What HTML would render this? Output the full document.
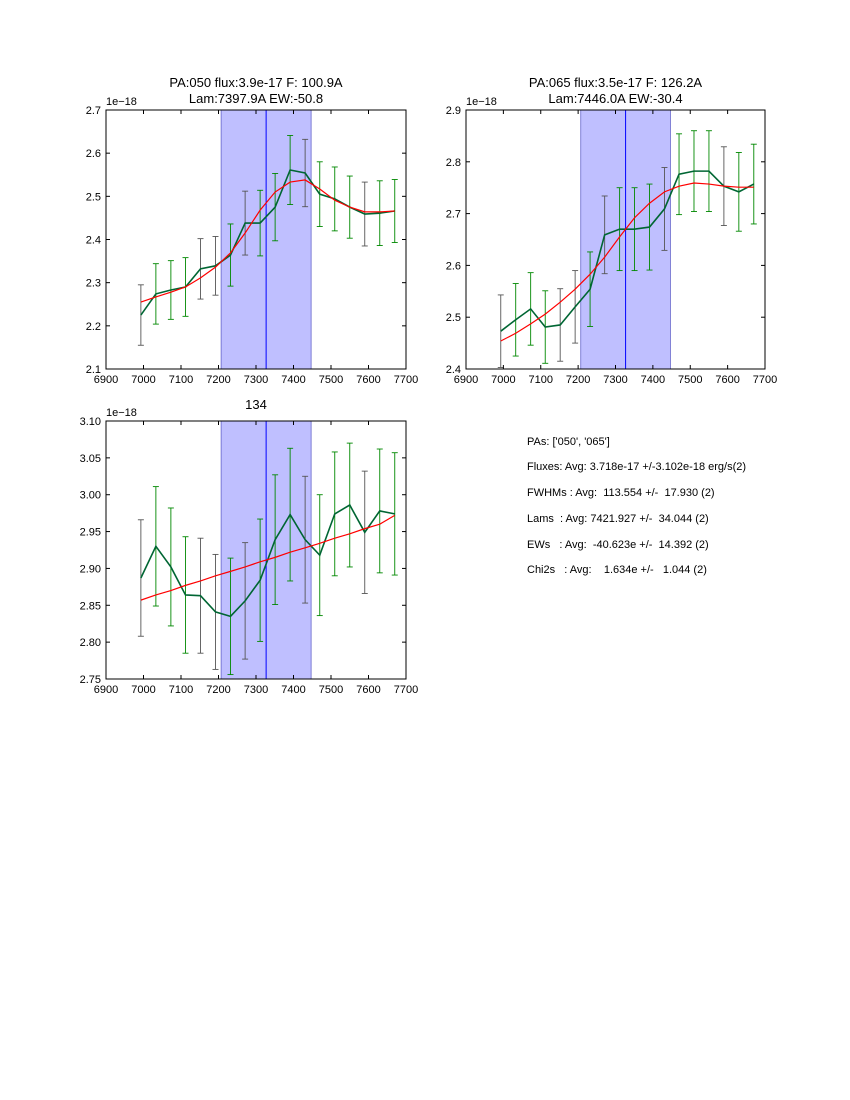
<!DOCTYPE html>
<html><head><meta charset="utf-8">
<style>
body{margin:0;background:#fff;}
svg{display:block;font-family:"Liberation Sans",sans-serif;}
text{white-space:pre;}
</style></head>
<body>
<svg id="fig" width="850" height="1100" viewBox="0 0 850 1100" xmlns="http://www.w3.org/2000/svg" xml:space="preserve">
<rect width="850" height="1100" fill="#fff"/>
<g font-size="11" fill="#000">
<text x="527" y="445">PAs: ['050', '065']</text>
<text x="527" y="470">Fluxes: Avg: 3.718e-17 +/-3.102e-18 erg/s(2)</text>
<text x="527" y="496">FWHMs : Avg:  113.554 +/-  17.930 (2)</text>
<text x="527" y="522">Lams  : Avg: 7421.927 +/-  34.044 (2)</text>
<text x="527" y="548">EWs   : Avg:  -40.623e +/-  14.392 (2)</text>
<text x="527" y="573">Chi2s   : Avg:    1.634e +/-   1.044 (2)</text>
</g>
</svg>
<script>
const wave = [6993,7033,7073,7112,7152,7192,7232,7271,7311,7351,7391,7431,7470,7510,7550,7590,7630,7670];
const flux1 = [2.225,2.274,2.283,2.290,2.332,2.339,2.364,2.438,2.438,2.475,2.561,2.554,2.505,2.494,2.475,2.459,2.461,2.466];
const err1 = [0.07,0.07,0.068,0.068,0.07,0.068,0.072,0.074,0.076,0.078,0.08,0.078,0.075,0.074,0.072,0.074,0.075,0.073];
const fit1 = [2.255,2.267,2.278,2.290,2.311,2.336,2.369,2.415,2.468,2.510,2.533,2.538,2.517,2.491,2.475,2.464,2.464,2.466];
const flux2 = [2.473,2.495,2.516,2.481,2.485,2.520,2.554,2.659,2.670,2.670,2.674,2.709,2.776,2.782,2.782,2.753,2.742,2.757];
const err2 = [0.07,0.07,0.07,0.07,0.07,0.07,0.072,0.075,0.08,0.08,0.083,0.08,0.078,0.078,0.078,0.076,0.076,0.077];
const fit2 = [2.454,2.469,2.487,2.506,2.529,2.554,2.583,2.616,2.655,2.692,2.720,2.742,2.753,2.759,2.757,2.753,2.751,2.751];
const flux3 = [2.887,2.930,2.902,2.864,2.863,2.841,2.835,2.856,2.884,2.939,2.973,2.939,2.918,2.974,2.986,2.949,2.978,2.974];
const err3 = [0.079,0.081,0.08,0.079,0.078,0.078,0.079,0.079,0.083,0.088,0.09,0.086,0.082,0.084,0.084,0.083,0.084,0.083];
const fit3 = [2.857,2.864,2.870,2.877,2.883,2.890,2.896,2.902,2.909,2.915,2.922,2.928,2.934,2.941,2.947,2.954,2.960,2.972];
const errColors = ['#555','#080','#080','#080','#555','#555','#080','#555','#080','#080','#080','#555','#080','#080','#080','#555','#080','#080'];
const xTicks = [6900,7000,7100,7200,7300,7400,7500,7600,7700];
const yTicks1 = [2.1,2.2,2.3,2.4,2.5,2.6,2.7];
const yTicks2 = [2.4,2.5,2.6,2.7,2.8,2.9];
const yTicks3 = [2.75,2.80,2.85,2.90,2.95,3.00,3.05,3.10];
const band = [7207,7447,7327];

const NS='http://www.w3.org/2000/svg';
const svg=document.getElementById('fig');
function mk(tag,attrs,parent){const e=document.createElementNS(NS,tag);for(const k in attrs)e.setAttribute(k,attrs[k]);(parent||svg).appendChild(e);return e;}

function panel(name,L,T,W,H,ymin,ymax,yt,dec,flux,err,fit,titles){
  const g=mk('g',{});
  
  
  const sx=v=>L+(v-6900)/800*W, sy=v=>T+H-(v-ymin)/(ymax-ymin)*H;
  const bd=mk('rect',{x:sx(band[0]),y:T,width:sx(band[1])-sx(band[0]),height:H,fill:'#bfbfff',stroke:'#6666cc','stroke-width':0.8},g);
  
  
  const cl=mk('line',{x1:sx(band[2]),x2:sx(band[2]),y1:T,y2:T+H,stroke:'#0000ff','stroke-width':1},g);
  
  
  wave.forEach((w,i)=>{
    const x=sx(w),y1=sy(flux[i]-err[i]),y2=sy(flux[i]+err[i]);
    const eb=mk('g',{stroke:errColors[i],'stroke-width':0.9},g);
    
    
    mk('line',{x1:x,x2:x,y1:y1,y2:y2},eb);
    mk('line',{x1:x-3,x2:x+3,y1:y1,y2:y1},eb);
    mk('line',{x1:x-3,x2:x+3,y1:y2,y2:y2},eb);
  });
  const dl=mk('polyline',{points:wave.map((w,i)=>sx(w)+','+sy(flux[i])).join(' '),fill:'none',stroke:'#006633','stroke-width':1.6},g);
  
  
  const fl=mk('polyline',{points:wave.map((w,i)=>sx(w)+','+sy(fit[i])).join(' '),fill:'none',stroke:'#ff0000','stroke-width':1.2},g);
  
  
  const fr=mk('rect',{x:L,y:T,width:W,height:H,fill:'none',stroke:'#000','stroke-width':1},g);
  
  
  xTicks.forEach(t=>{const x=sx(t);
    mk('line',{x1:x,x2:x,y1:T+H,y2:T+H-4,stroke:'#000'},g);
    mk('line',{x1:x,x2:x,y1:T,y2:T+4,stroke:'#000'},g);
    const tx=mk('text',{x:x,y:T+H+14,'font-size':11,'text-anchor':'middle'},g);tx.textContent=t;
    
    
  });
  yt.forEach(t=>{const y=sy(t);
    mk('line',{x1:L,x2:L+4,y1:y,y2:y,stroke:'#000'},g);
    mk('line',{x1:L+W,x2:L+W-4,y1:y,y2:y,stroke:'#000'},g);
    const tx=mk('text',{x:L-5,y:y+4,'font-size':11,'text-anchor':'end'},g);tx.textContent=t.toFixed(dec);
    
    
  });
  const off=mk('text',{x:L,y:T-5,'font-size':11},g);off.textContent='1e\u221218';
  
  
  titles.forEach((s,i)=>{const tt=mk('text',{x:L+W/2,y:T-23+i*16-(titles.length==1?-11:0),'font-size':13,'text-anchor':'middle'},g);tt.textContent=s;
    
    
  });
}
panel('panel-pa050',106,110,300,259,2.1,2.7,yTicks1,1,flux1,err1,fit1,['PA:050 flux:3.9e-17 F: 100.9A','Lam:7397.9A EW:-50.8']);
panel('panel-pa065',466,110,299,259,2.4,2.9,yTicks2,1,flux2,err2,fit2,['PA:065 flux:3.5e-17 F: 126.2A','Lam:7446.0A EW:-30.4']);
panel('panel-134',106,421,300,258,2.75,3.10,yTicks3,2,flux3,err3,fit3,['134']);
</script>
</body></html>
